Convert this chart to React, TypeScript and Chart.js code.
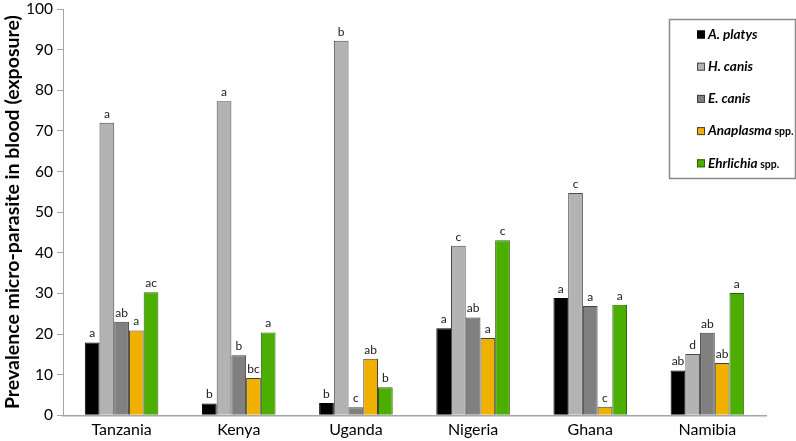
import React, { useEffect, useRef } from "react";
import { Chart, registerables } from "chart.js";

Chart.register(...registerables);

const categories = ["Tanzania", "Kenya", "Uganda", "Nigeria", "Ghana", "Namibia"];
const seriesNames = ["A. platys", "H. canis", "E. canis", "Anaplasma", "Ehrlichia"];
const seriesSuffix = ["", "", "", " spp.", " spp."];

const aPlatys = [17.9, 2.9, 3.0, 21.4, 28.9, 11.0];
const hCanis = [72.0, 77.3, 92.2, 41.7, 54.7, 15.1];
const eCanis = [23.0, 14.8, 2.0, 24.1, 26.9, 20.3];
const anaplasma = [20.9, 9.2, 13.9, 19.0, 2.1, 12.9];
const ehrlichia = [30.3, 20.4, 6.9, 43.1, 27.2, 30.1];

const aPlatysLetters = ["a", "b", "b", "a", "a", "ab"];
const hCanisLetters = ["a", "a", "b", "c", "c", "d"];
const eCanisLetters = ["ab", "b", "c", "ab", "a", "ab"];
const anaplasmaLetters = ["a", "bc", "ab", "a", "c", "ab"];
const ehrlichiaLetters = ["ac", "a", "b", "c", "a", "a"];

const yTitle = "Prevalence micro-parasite in blood (exposure)";
const yMin = 0;
const yMax = 100;
const yStep = 10;

const FONT = "Lato, 'Open Sans', sans-serif";
const fills = ["#000000", "#b3b3b3", "#808080", "#f0b000", "#4cae00"];
const borders = ["#000000", "#4a4a4a", "#404040", "#404040", "#2f5f10"];

const allValues = [aPlatys, hCanis, eCanis, anaplasma, ehrlichia];
const allLetters = [aPlatysLetters, hCanisLetters, eCanisLetters, anaplasmaLetters, ehrlichiaLetters];

const letterPlugin = {
  id: "letters",
  afterDatasetsDraw(chart: any) {
    const ctx = chart.ctx;
    ctx.save();
    ctx.font = `12px ${FONT}`;
    ctx.fillStyle = "#1a1a1a";
    ctx.textAlign = "center";
    ctx.textBaseline = "bottom";
    chart.data.datasets.forEach((ds: any, di: number) => {
      const meta = chart.getDatasetMeta(di);
      meta.data.forEach((el: any, i: number) => {
        const lab = allLetters[di][i];
        ctx.fillText(lab, el.x, el.y - 3);
      });
    });
    ctx.restore();
  },
};

const legendPlugin = {
  id: "customLegend",
  afterDraw(chart: any) {
    const ctx = chart.ctx;
    ctx.save();
    const bx = 669.5, by = 19.5, bw = 126, bh = 159;
    ctx.fillStyle = "#fff";
    ctx.fillRect(bx, by, bw, bh);
    ctx.strokeStyle = "#8a8a8a";
    ctx.lineWidth = 1.5;
    ctx.strokeRect(bx, by, bw, bh);
    const rowGap = 32.2;
    const firstY = 34.5;
    seriesNames.forEach((name, i) => {
      const cy = firstY + i * rowGap;
      ctx.fillStyle = fills[i];
      ctx.fillRect(697, cy - 4, 8, 8);
      ctx.strokeStyle = borders[i];
      ctx.lineWidth = 1;
      ctx.strokeRect(697.5, cy - 3.5, 7, 7);
      ctx.fillStyle = "#000";
      ctx.textBaseline = "middle";
      ctx.textAlign = "left";
      ctx.font = `italic bold 13.5px ${FONT}`;
      ctx.fillText(name, 708, cy);
      const w = ctx.measureText(name).width;
      if (seriesSuffix[i]) {
        ctx.font = `bold 10.5px ${FONT}`;
        ctx.fillText(seriesSuffix[i], 708 + w, cy + 1);
      }
    });
    ctx.restore();
  },
};

export default function App() {
  const ref = useRef<HTMLCanvasElement | null>(null);
  useEffect(() => {
    if (!ref.current) return;
    const chart = new Chart(ref.current, {
      type: "bar",
      data: {
        labels: categories,
        datasets: allValues.map((vals, i) => ({
          label: seriesNames[i] + seriesSuffix[i],
          data: vals,
          backgroundColor: fills[i],
          borderColor: borders[i],
          borderWidth: 1,
          categoryPercentage: 0.628,
          barPercentage: 1.0,
        })),
      },
      options: {
        animation: false,
        responsive: false,
        maintainAspectRatio: false,
        layout: { padding: { top: 9, right: 30, bottom: 0, left: 0 } },
        plugins: {
          legend: { display: false },
          tooltip: { enabled: false },
        },
        scales: {
          x: {
            grid: { display: false, drawTicks: false },
            border: { display: true, color: "#a6a6a6", width: 1.5 },
            ticks: { color: "#000", font: { family: FONT, size: 16 }, padding: 5 },
            afterFit(scale: any) {
              scale.height = 25.7;
              scale.paddingLeft = 0;
              scale.paddingRight = 0;
            },
          },
          y: {
            min: yMin,
            max: yMax,
            ticks: {
              stepSize: yStep,
              color: "#000",
              font: { family: FONT, size: 15.5 },
              padding: 4,
            },
            grid: { drawOnChartArea: false, drawTicks: true, tickLength: 6, color: "#a6a6a6" },
            border: { display: true, color: "#a6a6a6", width: 1 },
            title: {
              display: true,
              text: yTitle,
              color: "#000",
              font: { family: FONT, size: 19.5, weight: "bold" },
              padding: { top: 1, bottom: 1 },
            },
            afterFit(scale: any) {
              scale.width = 63;
              scale.paddingTop = 0;
              scale.paddingBottom = 0;
            },
          },
        },
      },
      plugins: [letterPlugin, legendPlugin],
    });
    return () => chart.destroy();
  }, []);
  return (
    <div style={{ position: "fixed", left: 0, top: 0, width: 796, height: 441, background: "#fff" }}>
      <canvas ref={ref} width={796} height={441} style={{ display: "block" }} />
    </div>
  );
}
